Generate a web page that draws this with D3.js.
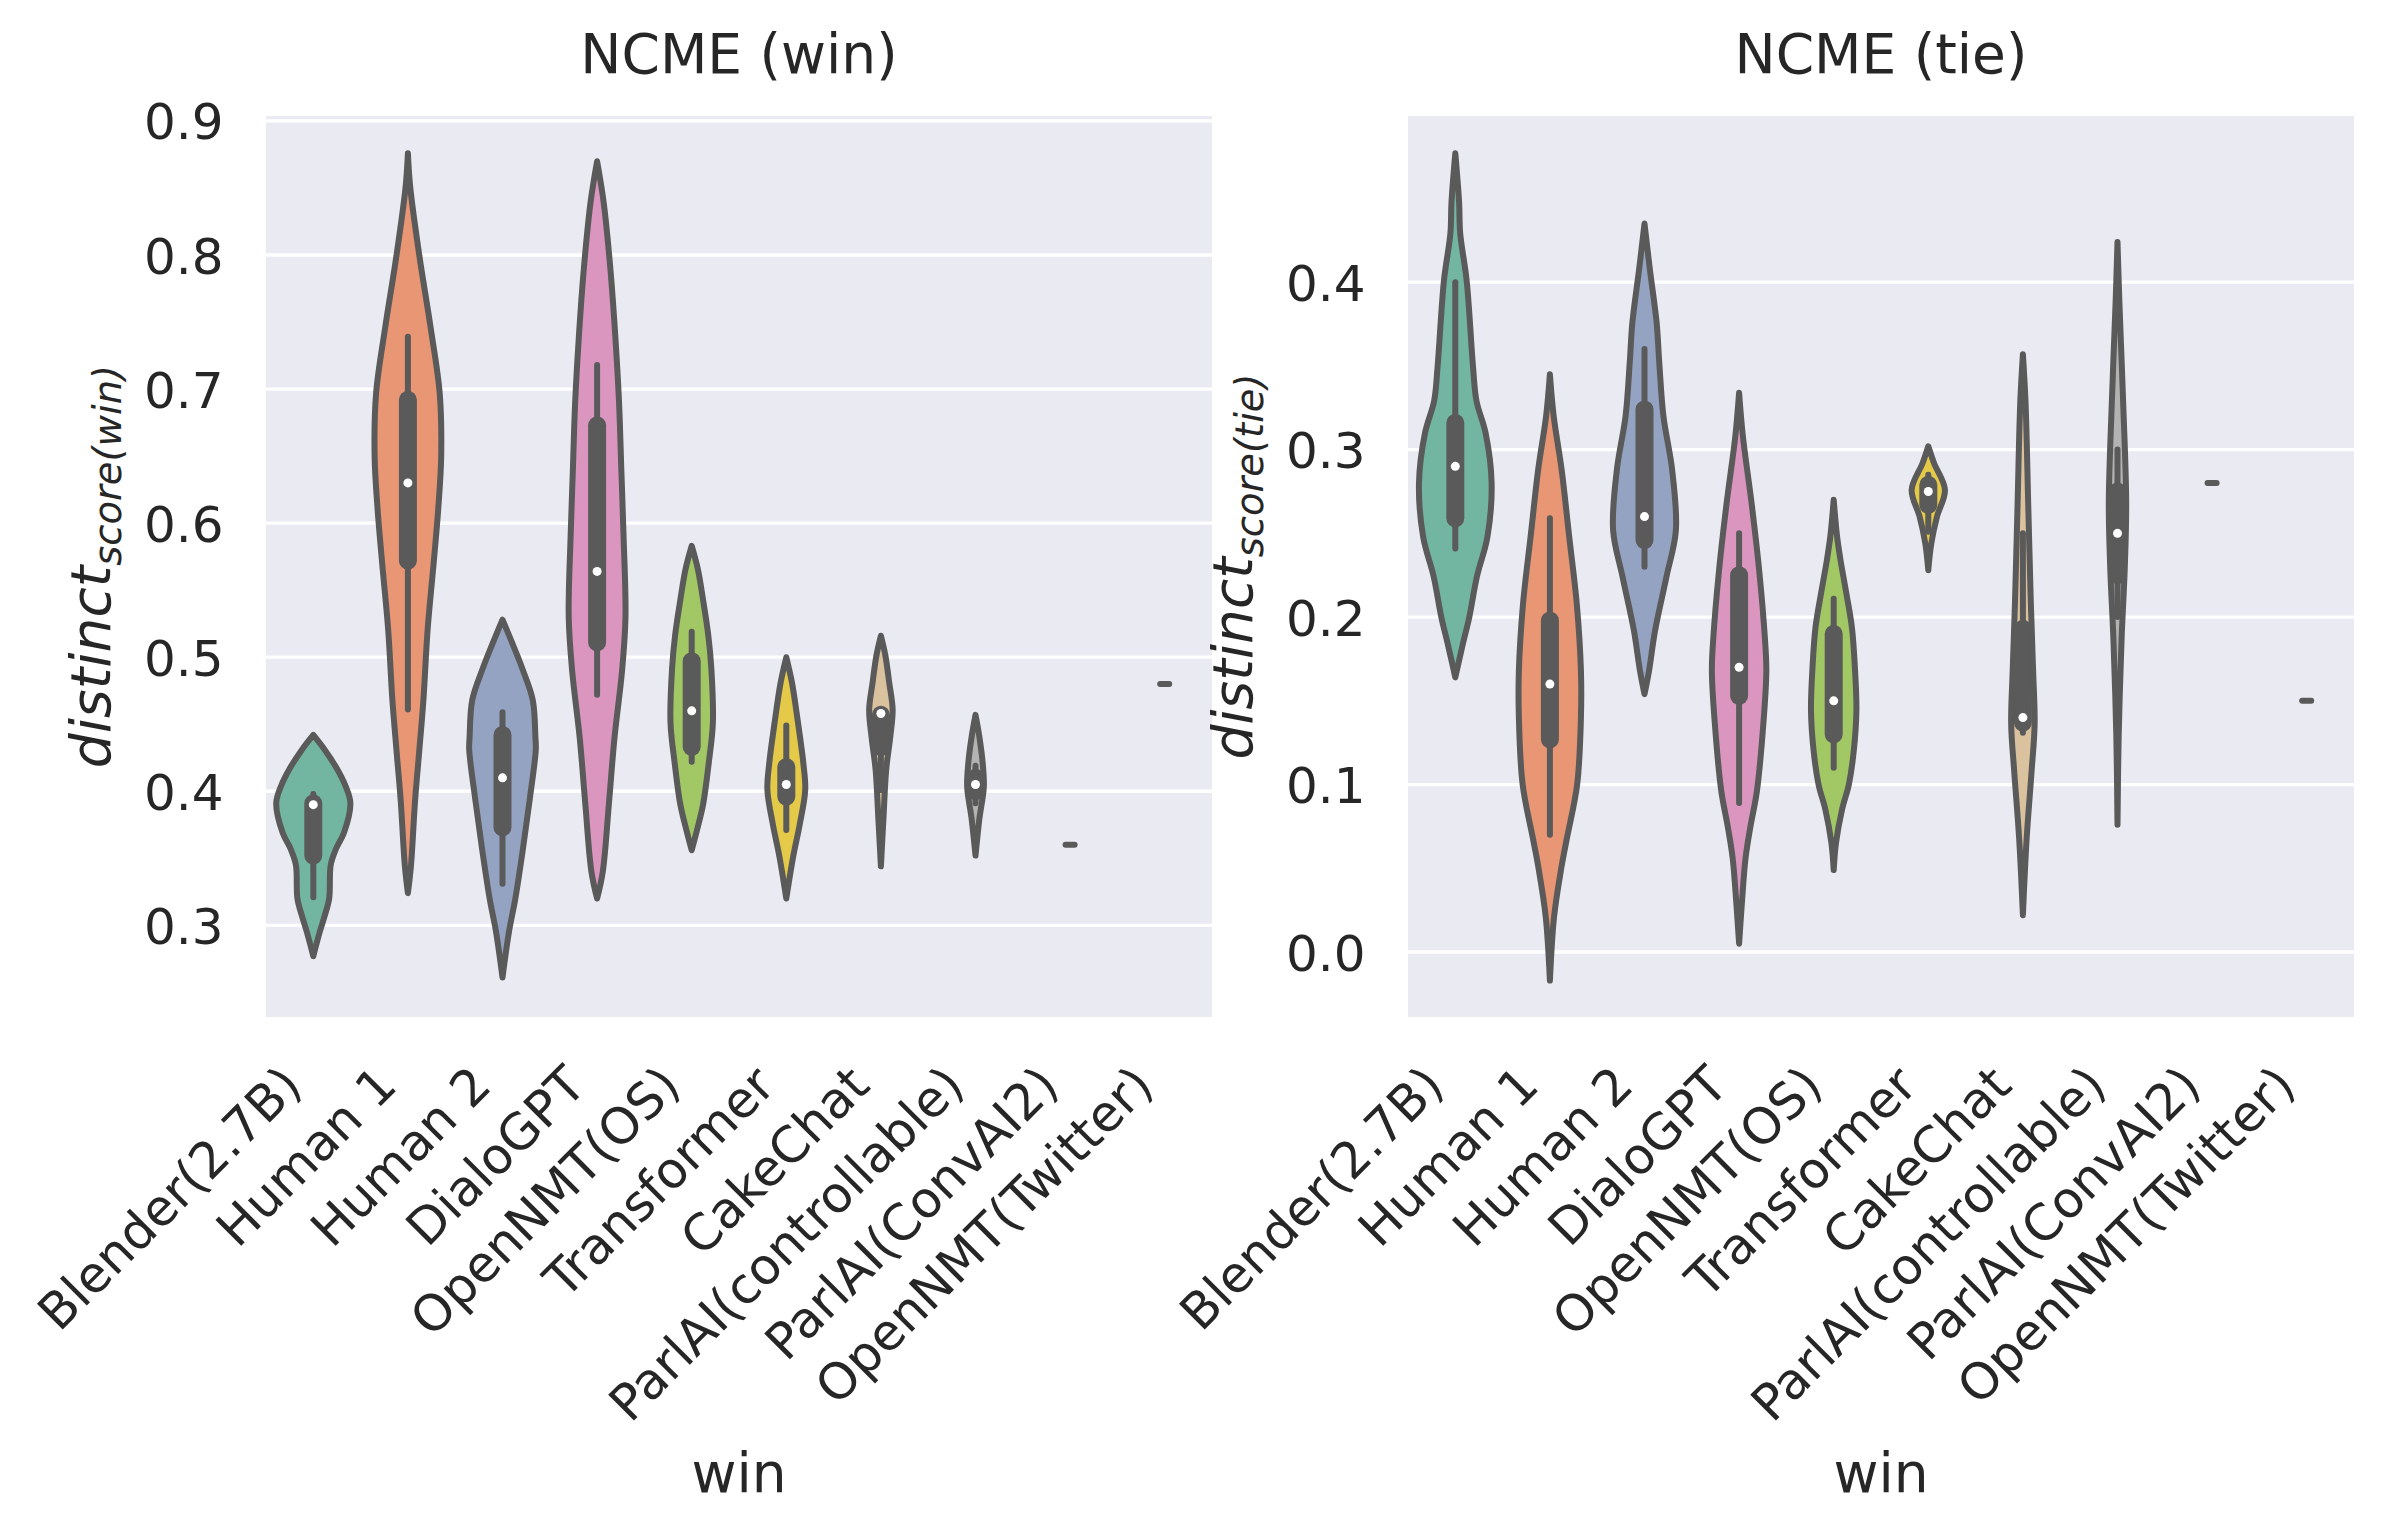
<!DOCTYPE html>
<html>
<head>
<meta charset="utf-8">
<script src="https://cdn.jsdelivr.net/npm/d3@7"></script>
<style>
  html, body { margin: 0; padding: 0; background: #fff; }
  svg { display: block; font-family: "DejaVu Sans", sans-serif; }
</style>
</head>
<body>
<script>
// ---------------- DATA ----------------
const categories = ["Blender(2.7B)", "Human 1", "Human 2", "DialoGPT", "OpenNMT(OS)",
  "Transformer", "CakeChat", "ParlAI(controllable)", "ParlAI(ConvAI2)", "OpenNMT(Twitter)"];

const palette = ["#66c2a5", "#fc8d62", "#8da0cb", "#e78ac3", "#a6d854", "#ffd92f", "#e5c494", "#b3b3b3"];

const panelTitles = ["NCME (win)", "NCME (tie)"];
const xLabel = "win";
const yLabelSubs = ["score(win)", "score(tie)"];

const winTicks = [0.3, 0.4, 0.5, 0.6, 0.7, 0.8, 0.9];
const tieTicks = [0.0, 0.1, 0.2, 0.3, 0.4];
const winDomain = [0.2316, 0.9037];
const tieDomain = [-0.0388, 0.4992];

// violin density profiles: [value, relative half-width]
const winProfiles = [
  [[0.442,0],[0.431,0.3],[0.418,0.6],[0.404,0.85],[0.391,0.98],[0.369,0.81],[0.357,0.6],[0.345,0.46],[0.32,0.42],[0.307,0.3],[0.295,0.17],[0.277,0]],
  [[0.876,0],[0.851,0.06],[0.8,0.30],[0.746,0.60],[0.697,0.84],[0.65,0.88],[0.61,0.8],[0.57,0.68],[0.52,0.52],[0.468,0.41],[0.43,0.3],[0.393,0.19],[0.344,0.08],[0.324,0]],
  [[0.528,0],[0.511,0.25],[0.491,0.53],[0.468,0.8],[0.44,0.87],[0.431,0.88],[0.394,0.72],[0.357,0.54],[0.32,0.34],[0.295,0.17],[0.261,0]],
  [[0.87,0],[0.84,0.17],[0.79,0.35],[0.74,0.48],[0.69,0.58],[0.64,0.64],[0.59,0.7],[0.53,0.75],[0.49,0.66],[0.44,0.46],[0.39,0.31],[0.34,0.15],[0.32,0]],
  [[0.583,0],[0.566,0.16],[0.541,0.31],[0.516,0.44],[0.491,0.52],[0.451,0.56],[0.421,0.45],[0.39,0.3],[0.37,0.13],[0.356,0]],
  [[0.5,0],[0.481,0.15],[0.451,0.31],[0.421,0.45],[0.401,0.5],[0.376,0.36],[0.351,0.18],[0.32,0]],
  [[0.516,0],[0.501,0.12],[0.481,0.22],[0.461,0.31],[0.441,0.25],[0.416,0.14],[0.381,0.07],[0.344,0]],
  [[0.457,0],[0.441,0.1],[0.421,0.19],[0.403,0.22],[0.381,0.11],[0.366,0.05],[0.352,0]],
  null,
  null
];
const winQ1     = [0.352, 0.572, 0.373, 0.511, 0.433, 0.396, 0.433, 0.400, null, null];
const winQ3     = [0.391, 0.692, 0.442, 0.673, 0.497, 0.418, 0.457, 0.410, null, null];
const winLow    = [0.321, 0.461, 0.331, 0.472, 0.422, 0.371, 0.401, 0.391, null, null];
const winHigh   = [0.398, 0.739, 0.459, 0.718, 0.519, 0.449, 0.460, 0.419, null, null];
const winMedian = [0.390, 0.630, 0.410, 0.564, 0.460, 0.405, 0.458, 0.405, 0.360, 0.480];

const tieProfiles = [
  [[0.477,0],[0.448,0.1],[0.429,0.13],[0.401,0.3],[0.349,0.47],[0.329,0.56],[0.31,0.8],[0.28,0.96],[0.248,0.85],[0.224,0.57],[0.2,0.37],[0.184,0.2],[0.164,0]],
  [[0.345,0],[0.32,0.1],[0.288,0.31],[0.248,0.51],[0.208,0.71],[0.168,0.82],[0.14,0.82],[0.1,0.72],[0.068,0.45],[0.05,0.3],[0.021,0.11],[-0.017,0]],
  [[0.435,0],[0.408,0.14],[0.376,0.32],[0.352,0.39],[0.32,0.5],[0.288,0.73],[0.252,0.83],[0.224,0.58],[0.192,0.28],[0.168,0.12],[0.154,0]],
  [[0.334,0],[0.308,0.1],[0.268,0.33],[0.228,0.53],[0.188,0.68],[0.168,0.72],[0.136,0.64],[0.096,0.47],[0.075,0.3],[0.056,0.17],[0.028,0.07],[0.005,0]],
  [[0.27,0],[0.248,0.09],[0.234,0.18],[0.216,0.32],[0.194,0.48],[0.17,0.56],[0.144,0.6],[0.12,0.53],[0.1,0.4],[0.085,0.22],[0.065,0.06],[0.049,0]],
  [[0.302,0],[0.292,0.15],[0.276,0.44],[0.26,0.23],[0.244,0.08],[0.228,0]],
  [[0.357,0],[0.328,0.07],[0.268,0.14],[0.208,0.21],[0.168,0.27],[0.136,0.31],[0.108,0.23],[0.068,0.1],[0.022,0]],
  [[0.424,0],[0.388,0.05],[0.328,0.15],[0.268,0.23],[0.228,0.19],[0.188,0.11],[0.128,0.03],[0.076,0]],
  null,
  null
];
const tieQ1     = [0.259, 0.127, 0.246, 0.153, 0.130, 0.267, 0.137, 0.225, null, null];
const tieQ3     = [0.316, 0.198, 0.324, 0.225, 0.190, 0.279, 0.193, 0.275, null, null];
const tieLow    = [0.241, 0.070, 0.230, 0.089, 0.110, 0.251, 0.131, 0.200, null, null];
const tieHigh   = [0.400, 0.259, 0.360, 0.250, 0.211, 0.285, 0.250, 0.300, null, null];
const tieMedian = [0.290, 0.160, 0.260, 0.170, 0.150, 0.275, 0.140, 0.250, 0.280, 0.150];

const singleDensity = 0.12;

// ---------------- LAYOUT / STYLE ----------------
const W = 2385, H = 1532;
const plotTop = 116, plotBottom = 1017;
const panels = [
  { x0: 266, x1: 1212, domain: winDomain, ticks: winTicks, profiles: winProfiles,
    q1: winQ1, q3: winQ3, lo: winLow, hi: winHigh, med: winMedian, title: panelTitles[0], sub: yLabelSubs[0] },
  { x0: 1408, x1: 2354, domain: tieDomain, ticks: tieTicks, profiles: tieProfiles,
    q1: tieQ1, q3: tieQ3, lo: tieLow, hi: tieHigh, med: tieMedian, title: panelTitles[1], sub: yLabelSubs[1] }
];
const gray = "#5a5a5a";
const textColor = "#262626";
const bgColor = "#eaeaf2";
const tickFont = 50, labelFont = 55, titleFont = 55;
const lw = 6;

function desat(c, p) { const h = d3.hsl(c); h.s *= p; return h.formatHex(); }

const svg = d3.select("body").append("svg").attr("width", W).attr("height", H);
svg.append("rect").attr("width", W).attr("height", H).attr("fill", "#fff");

panels.forEach(p => {
  const x = d3.scaleBand().domain(categories).range([p.x0, p.x1]).padding(0);
  const y = d3.scaleLinear().domain(p.domain).range([plotBottom, plotTop]);
  const maxHalf = x.bandwidth() * 0.4;
  const g = svg.append("g");

  g.append("rect").attr("x", p.x0).attr("y", plotTop)
    .attr("width", p.x1 - p.x0).attr("height", plotBottom - plotTop).attr("fill", bgColor);

  g.append("g").selectAll("line").data(p.ticks).join("line")
    .attr("x1", p.x0).attr("x2", p.x1)
    .attr("y1", d => y(d)).attr("y2", d => y(d))
    .attr("stroke", "#fff").attr("stroke-width", 3.3);

  // y axis
  const ya = g.append("g").attr("transform", `translate(${p.x0},0)`)
    .call(d3.axisLeft(y).tickValues(p.ticks).tickFormat(d3.format(".1f")).tickSize(0).tickPadding(42.5));
  ya.select(".domain").remove();
  ya.selectAll("text").attr("font-size", tickFont).attr("fill", textColor)
    .attr("font-family", "DejaVu Sans").attr("dy", "0.36em");

  // x axis
  const xa = g.append("g").attr("transform", `translate(0,1088)`)
    .call(d3.axisBottom(x).tickSize(0));
  xa.select(".domain").remove();
  xa.selectAll("text").attr("font-size", tickFont).attr("fill", textColor)
    .attr("font-family", "DejaVu Sans")
    .attr("x", 0).attr("y", 0).attr("dy", 0)
    .attr("text-anchor", "end")
    .attr("transform", "translate(-9,0) rotate(-45)");

  // violins
  categories.forEach((cat, i) => {
    const cx = x(cat) + x.bandwidth() / 2;
    const fill = desat(palette[i % palette.length], 0.75);
    const prof = p.profiles[i];
    if (prof) {
      const area = d3.area()
        .curve(d3.curveCatmullRom.alpha(0.5))
        .y(d => y(d[0]))
        .x0(d => cx - d[1] * maxHalf)
        .x1(d => cx + d[1] * maxHalf);
      g.append("path").datum(prof).attr("d", area)
        .attr("fill", fill).attr("stroke", gray).attr("stroke-width", lw)
        .attr("stroke-linejoin", "round");
      g.append("line").attr("x1", cx).attr("x2", cx)
        .attr("y1", y(p.lo[i])).attr("y2", y(p.hi[i]))
        .attr("stroke", gray).attr("stroke-width", lw).attr("stroke-linecap", "round");
      g.append("line").attr("x1", cx).attr("x2", cx)
        .attr("y1", y(p.q1[i])).attr("y2", y(p.q3[i]))
        .attr("stroke", gray).attr("stroke-width", lw * 3).attr("stroke-linecap", "round");
      g.append("circle").attr("cx", cx).attr("cy", y(p.med[i])).attr("r", 4.5).attr("fill", "#fff");
    } else {
      const hw = singleDensity * maxHalf;
      g.append("line").attr("x1", cx - hw).attr("x2", cx + hw)
        .attr("y1", y(p.med[i])).attr("y2", y(p.med[i]))
        .attr("stroke", gray).attr("stroke-width", lw).attr("stroke-linecap", "round");
    }
  });

  // title
  const cxp = (p.x0 + p.x1) / 2;
  g.append("text").attr("x", cxp).attr("y", 73).attr("text-anchor", "middle")
    .attr("font-size", titleFont).attr("fill", textColor).text(p.title);

  // x label
  g.append("text").attr("x", cxp).attr("y", 1492).attr("text-anchor", "middle")
    .attr("font-size", labelFont).attr("fill", textColor).text(xLabel);

  // y label (math style)
  const cy = (plotTop + plotBottom) / 2;
  const yl = g.append("text")
    .attr("transform", `translate(${p.x0 - 156},${cy}) rotate(-90)`)
    .attr("text-anchor", "middle").attr("fill", textColor)
    .attr("font-style", "italic").attr("font-size", labelFont);
  yl.append("tspan").text("distinct");
  yl.append("tspan").attr("font-size", labelFont * 0.7).attr("dy", 11).text(p.sub);
});
</script>
</body>
</html>
